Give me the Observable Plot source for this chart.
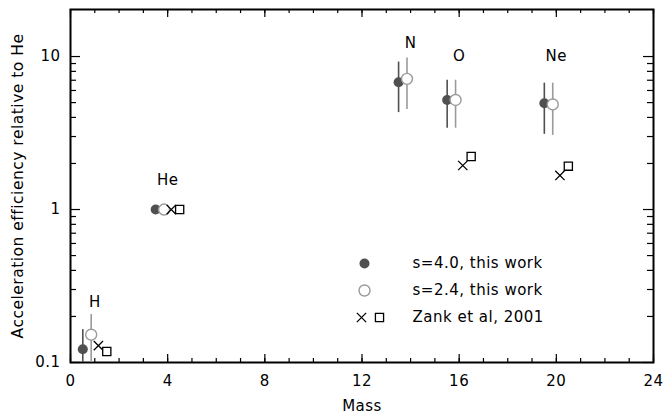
<!DOCTYPE html>
<html><head><meta charset="utf-8">
<script src="https://cdn.jsdelivr.net/npm/d3@7"></script>
<script src="https://cdn.jsdelivr.net/npm/@observablehq/plot@0.6"></script>
<style>body{margin:0;background:#fff}</style>
</head><body><div id="chart"></div>
<script>
// ---- data ----
const elements = ["H", "He", "N", "O", "Ne"];
const mass = [1, 4, 14, 16, 20];
const s40 = [0.122, 1.0, 6.8, 5.2, 4.95];
const s40Lo = [0.1, null, 4.3, 3.4, 3.1];
const s40Hi = [0.164, null, 9.2, 7.0, 6.7];
const s24 = [0.152, 1.0, 7.15, 5.2, 4.86];
const s24Lo = [0.1, null, 4.5, 3.4, 3.05];
const s24Hi = [0.206, null, 9.8, 7.0, 6.7];
const zankCross = [0.129, 1.0, null, 1.94, 1.67];
const zankSquare = [0.118, 1.0, null, 2.22, 1.92];
const labelY = [0.247, 1.55, 12.2, 10.0, 10.0];
const legendLabels = ["s=4.0, this work", "s=2.4, this work", "Zank et al, 2001"];
const xMajor = [0, 4, 8, 12, 16, 20, 24];
const xMinor = d3.range(0, 25);
const yMajor = [0.1, 1, 10];
const yMinor = [0.2, 0.3, 0.4, 0.5, 0.6, 0.7, 0.8, 0.9, 2, 3, 4, 5, 6, 7, 8, 9];

const rows = elements.map((e, i) => ({
  element: e, mass: mass[i],
  s40: s40[i], s40Lo: s40Lo[i], s40Hi: s40Hi[i],
  s24: s24[i], s24Lo: s24Lo[i], s24Hi: s24Hi[i],
  zx: zankCross[i], zs: zankSquare[i], ly: labelY[i]
}));

// ---- layout ----
const W = 663, H = 416, mL = 70, mR = 10, mT = 9, mB = 54;
const pW = W - mL - mR, pH = H - mT - mB;
const dark = "#505050", light = "#9a9a9a";
const off = 12, off2 = 3.6; // pixel offsets of the four markers around each mass

const marks = [
  // inward ticks on all four sides
  Plot.ruleX(xMinor, {insetTop: pH - 4, strokeWidth: 1.2}),
  Plot.ruleX(xMajor, {insetTop: pH - 8, strokeWidth: 1.2}),
  Plot.ruleX(xMinor, {insetBottom: pH - 4, strokeWidth: 1.2}),
  Plot.ruleX(xMajor, {insetBottom: pH - 8, strokeWidth: 1.2}),
  Plot.ruleY(yMinor, {insetRight: pW - 6, strokeWidth: 1.2}),
  Plot.ruleY(yMajor, {insetRight: pW - 10, strokeWidth: 1.2}),
  Plot.ruleY(yMinor, {insetLeft: pW - 6, strokeWidth: 1.2}),
  Plot.ruleY(yMajor, {insetLeft: pW - 10, strokeWidth: 1.2}),
  Plot.axisX({ticks: xMajor, tickSize: 0, tickPadding: 13, label: null, fontSize: 15}),
  Plot.axisY({ticks: yMajor, tickSize: 0, tickPadding: 10, label: null, fontSize: 15, tickFormat: d => String(d)}),
  Plot.frame({stroke: "black", strokeWidth: 2}),
  // s=4.0
  Plot.ruleX(rows.filter(d => d.s40Lo != null), {x: "mass", y1: "s40Lo", y2: "s40Hi", dx: -off, stroke: dark, strokeWidth: 1.6}),
  Plot.dot(rows, {x: "mass", y: "s40", dx: -off, r: 5, fill: dark, stroke: "none"}),
  // s=2.4
  Plot.ruleX(rows.filter(d => d.s24Lo != null), {x: "mass", y1: "s24Lo", y2: "s24Hi", dx: -off2, stroke: light, strokeWidth: 1.6}),
  Plot.dot(rows, {x: "mass", y: "s24", dx: -off2, r: 5.5, fill: "white", stroke: light, strokeWidth: 1.4}),
  // Zank et al
  Plot.dot(rows.filter(d => d.zx != null), {x: "mass", y: "zx", dx: off2, symbol: "times", r: 4.3, stroke: "black", strokeWidth: 1.3}),
  Plot.dot(rows.filter(d => d.zs != null), {x: "mass", y: "zs", dx: off, symbol: "square", r: 4.6, fill: "white", stroke: "black", strokeWidth: 1.3}),
  // element labels
  Plot.text(rows, {x: "mass", y: "ly", text: "element", fontSize: 15}),
  // axis titles
  Plot.text(["Acceleration efficiency relative to He"], {frameAnchor: "left", dx: -52, rotate: -90, textAnchor: "middle", lineAnchor: "middle", fontSize: 15.5}),
  Plot.text(["Mass"], {frameAnchor: "bottom", dy: 44, lineAnchor: "middle", fontSize: 15}),
  // legend
  Plot.dot([0], {frameAnchor: "top-left", dx: 364 - mL, dy: 263 - mT, r: 5, fill: dark, stroke: "none"}),
  Plot.dot([0], {frameAnchor: "top-left", dx: 364 - mL, dy: 290 - mT, r: 5.5, fill: "white", stroke: light, strokeWidth: 1.4}),
  Plot.dot([0], {frameAnchor: "top-left", dx: 361 - mL, dy: 317 - mT, symbol: "times", r: 4.3, stroke: "black", strokeWidth: 1.3}),
  Plot.dot([0], {frameAnchor: "top-left", dx: 379 - mL, dy: 317 - mT, symbol: "square", r: 4.6, fill: "white", stroke: "black", strokeWidth: 1.3}),
  ...legendLabels.map((t, i) => Plot.text([t], {frameAnchor: "top-left", dx: 412 - mL, dy: 263 - mT + 27 * i, textAnchor: "start", lineAnchor: "middle", fontSize: 15}))
];

const chart = Plot.plot({
  width: W, height: H,
  marginLeft: mL, marginRight: mR, marginTop: mT, marginBottom: mB,
  style: {fontFamily: "DejaVu Sans", letterSpacing: "0.5px", background: "white", color: "black"},
  x: {domain: [0, 24]},
  y: {type: "log", domain: [0.1, 20.3]},
  marks
});
document.getElementById("chart").appendChild(chart);
</script>
</body></html>
